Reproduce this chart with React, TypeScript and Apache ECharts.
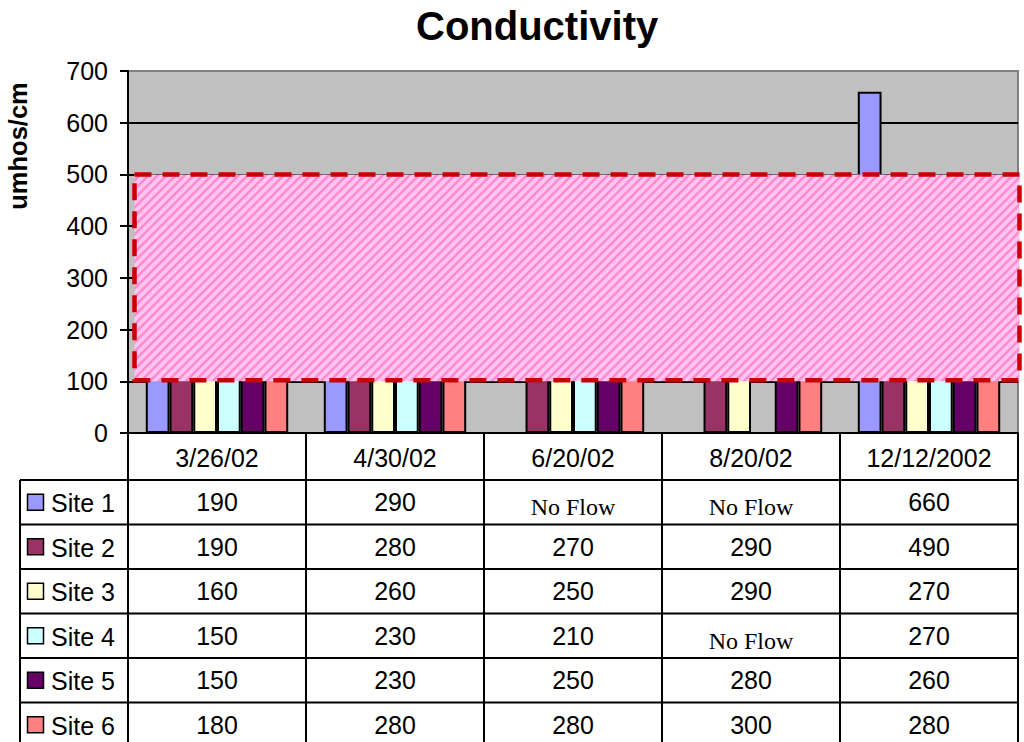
import React, { useEffect, useRef } from "react";
import * as echarts from "echarts";

const categories = ["3/26/02", "4/30/02", "6/20/02", "8/20/02", "12/12/2002"];
const siteNames = ["Site 1", "Site 2", "Site 3", "Site 4", "Site 5", "Site 6"];
const site1: (number | null)[] = [190, 290, null, null, 660];
const site2: (number | null)[] = [190, 280, 270, 290, 490];
const site3: (number | null)[] = [160, 260, 250, 290, 270];
const site4: (number | null)[] = [150, 230, 210, null, 270];
const site5: (number | null)[] = [150, 230, 250, 280, 260];
const site6: (number | null)[] = [180, 280, 280, 300, 280];
const siteValues = [site1, site2, site3, site4, site5, site6];
const siteColors = ["#9999FF", "#993366", "#FFFFCC", "#CCFFFF", "#660066", "#FF8080"];
const yMin = 0;
const yMax = 700;
const yInterval = 100;
const rangeLow = 100;
const rangeHigh = 500;
const missingLabel = "No Flow";
const titleText = "Conductivity";
const yAxisTitle = "umhos/cm";

// layout
const W = 1024;
const H = 742;
const GRID_LEFT = 128;
const GRID_RIGHT = 1018;
const GRID_TOP = 71;
const GRID_BOTTOM = 433;
const TABLE_LEFT = 20;
const HEADER_BOTTOM = 480;
const ROW_H = 44.5;
const SANS = '"Liberation Sans", Arial, sans-serif';
const SERIF = '"Liberation Serif", "Times New Roman", serif';

const stripeSvg =
  "<svg xmlns='http://www.w3.org/2000/svg' width='9' height='9'>" +
  "<rect width='9' height='9' fill='#FFC4F4'/>" +
  "<path d='M-2,2 L2,-2 M0,9 L9,0 M7,11 L11,7' stroke='#FF8CC8' stroke-width='2.6'/>" +
  "</svg>";
const stripeUrl = "data:image/svg+xml;charset=utf-8," + encodeURIComponent(stripeSvg);

function buildTable(): any[] {
  const n = categories.length;
  const colW = (GRID_RIGHT - GRID_LEFT) / n;
  const els: any[] = [];
  const line = (x1: number, y1: number, x2: number, y2: number) => ({
    type: "line",
    shape: { x1, y1, x2, y2 },
    style: { stroke: "#000", lineWidth: 2 },
    z: 10,
  });
  for (let k = 0; k <= n; k++) {
    const x = GRID_LEFT + k * colW;
    els.push(line(x, GRID_BOTTOM, x, H + 10));
  }
  els.push(line(TABLE_LEFT, HEADER_BOTTOM, TABLE_LEFT, H + 10));
  for (let r = 0; r <= siteNames.length; r++) {
    const y = HEADER_BOTTOM + r * ROW_H;
    els.push(line(TABLE_LEFT, y, GRID_RIGHT, y));
  }
  categories.forEach((c, i) => {
    els.push({
      type: "text",
      z: 11,
      style: {
        text: c,
        x: GRID_LEFT + (i + 0.5) * colW,
        y: (GRID_BOTTOM + HEADER_BOTTOM) / 2 + 1,
        font: `25px ${SANS}`,
        fill: "#000",
        align: "center",
        textAlign: "center",
        verticalAlign: "middle",
        textVerticalAlign: "middle",
      },
    });
  });
  siteNames.forEach((name, r) => {
    const cy = HEADER_BOTTOM + r * ROW_H + ROW_H / 2;
    els.push({
      type: "rect",
      z: 11,
      shape: { x: 27.5, y: cy - 8, width: 16, height: 16 },
      style: { fill: siteColors[r], stroke: "#000", lineWidth: 1.5 },
    });
    els.push({
      type: "text",
      z: 11,
      style: {
        text: name,
        x: 51,
        y: cy + 1,
        font: `25px ${SANS}`,
        fill: "#000",
        align: "left",
        textAlign: "left",
        verticalAlign: "middle",
        textVerticalAlign: "middle",
      },
    });
    siteValues[r].forEach((v, i) => {
      const missing = v === null;
      els.push({
        type: "text",
        z: 11,
        style: {
          text: missing ? missingLabel : String(v),
          x: GRID_LEFT + (i + 0.5) * colW,
          y: cy + (missing ? 5 : 0),
          font: missing ? `24px ${SERIF}` : `25px ${SANS}`,
          fill: "#000",
          align: "center",
          textAlign: "center",
          verticalAlign: "middle",
          textVerticalAlign: "middle",
        },
      });
    });
  });
  els.push({
    type: "text",
    z: 11,
    rotation: Math.PI / 2,
    x: 18,
    y: 146,
    style: {
      text: yAxisTitle,
      x: 0,
      y: 0,
      font: `bold 25.5px ${SANS}`,
      fill: "#000",
      align: "center",
      textAlign: "center",
      verticalAlign: "middle",
      textVerticalAlign: "middle",
    },
  });
  return els;
}

export default function App() {
  const ref = useRef<HTMLDivElement>(null);
  useEffect(() => {
    document.body.style.margin = "0";
    document.body.style.overflow = "hidden";
    if (!ref.current) return;
    const chart = echarts.init(ref.current, undefined, { renderer: "svg" });
    const pattern: any = {
      image: stripeUrl,
      repeat: "repeat",
      imageWidth: 9,
      imageHeight: 9,
    };
    const barSeries = siteNames.map((name, i) => ({
      name,
      type: "bar",
      data: siteValues[i],
      barGap: "0%",
      barCategoryGap: "20%",
      z: 2,
      itemStyle: { color: siteColors[i], borderColor: "#000", borderWidth: 2 },
    }));
    const rangeSeries = {
      type: "custom",
      name: "range",
      z: 5,
      silent: true,
      data: [[0, rangeLow, rangeHigh]],
      encode: { x: 0, y: [1, 2] },
      renderItem: (params: any, api: any) => {
        const cs = params.coordSys;
        const yLow = api.coord([0, api.value(1)])[1];
        const yHigh = api.coord([0, api.value(2)])[1];
        const x = cs.x + 6.5;
        const w = cs.width - 5;
        return {
          type: "group",
          children: [
            {
              type: "rect",
              shape: { x, y: yHigh, width: w, height: yLow - yHigh },
              style: { fill: pattern },
            },
            {
              type: "rect",
              shape: { x, y: yHigh, width: w, height: yLow - yHigh - 1 },
              style: { fill: "none", stroke: "#CC0000", lineWidth: 4.5, lineDash: [17, 11] },
            },
          ],
        };
      },
    };
    chart.setOption({
      animation: false,
      title: {
        text: titleText,
        left: 411,
        top: 1,
        textStyle: { fontFamily: SANS, fontSize: 40, fontWeight: "bold", color: "#000" },
      },
      grid: {
        left: GRID_LEFT,
        right: W - GRID_RIGHT,
        top: GRID_TOP,
        bottom: H - GRID_BOTTOM,
        show: true,
        backgroundColor: "#C0C0C0",
        borderColor: "#808080",
        borderWidth: 2,
      },
      xAxis: {
        type: "category",
        data: categories,
        boundaryGap: true,
        axisLine: { show: true, lineStyle: { color: "#000", width: 2 } },
        axisTick: { show: false },
        axisLabel: { show: false },
        splitLine: { show: false },
        z: 1,
      },
      yAxis: {
        type: "value",
        min: yMin,
        max: yMax,
        interval: yInterval,
        axisLine: { show: true, lineStyle: { color: "#000", width: 2 } },
        axisTick: { show: true, length: 8, lineStyle: { color: "#000", width: 2 } },
        axisLabel: { margin: 20, fontSize: 25, fontFamily: SANS, color: "#000" },
        splitLine: { show: true, showMaxLine: false, lineStyle: { color: "#000", width: 2 } },
        z: 1,
      },
      graphic: buildTable(),
      series: [...barSeries, rangeSeries],
    });
    return () => chart.dispose();
  }, []);
  return <div ref={ref} style={{ width: W, height: H }} />;
}
